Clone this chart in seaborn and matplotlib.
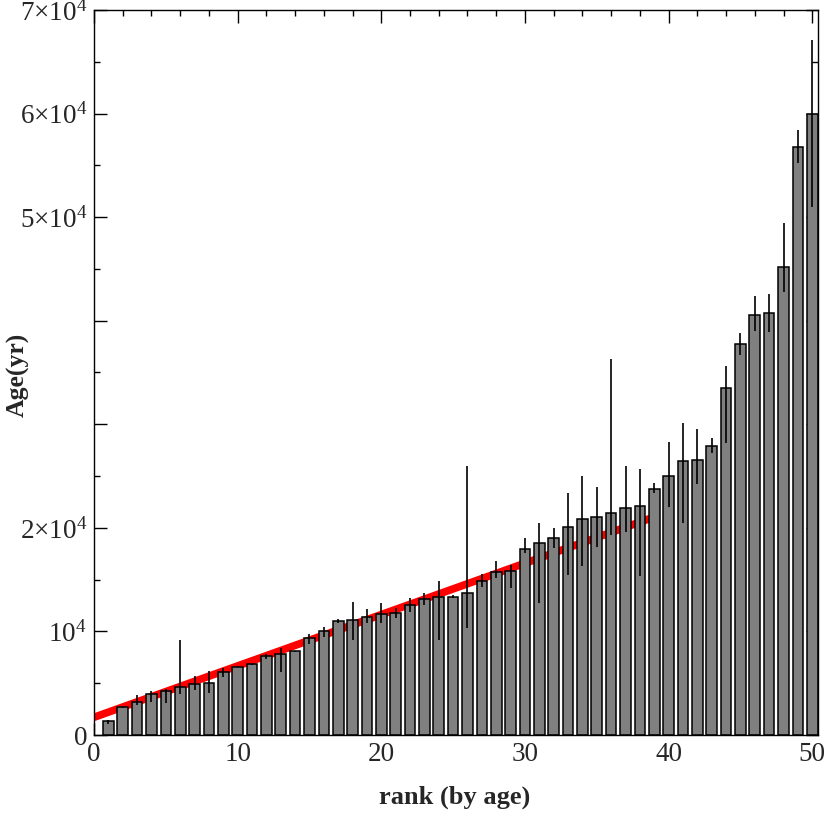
import numpy as np
import pandas as pd
import matplotlib
matplotlib.use("Agg")
import matplotlib.pyplot as plt
import seaborn as sns
from matplotlib.ticker import MultipleLocator, FixedLocator

# ---- data ----
rank = [1, 2, 3, 4, 5, 6, 7, 8, 9, 10, 11, 12, 13, 14, 15, 16, 17, 18, 19, 20,
        21, 22, 23, 24, 25, 26, 27, 28, 29, 30, 31, 32, 33, 34, 35, 36, 37, 38, 39, 40,
        41, 42, 43, 44, 45, 46, 47, 48, 49, 50]
age = [1350, 2670, 3220, 3930, 4280, 4600, 4920, 5020, 6050, 6600,
       6820, 7580, 7790, 8110, 9330, 10040, 11010, 11070, 11360, 11680,
       11780, 12550, 13100, 13290, 13350, 13680, 14840, 15770, 15860, 17960,
       18570, 18990, 20060, 20880, 21070, 21400, 21890, 22110, 23780, 24980,
       26460, 26580, 27900, 33470, 37750, 40580, 40740, 45150, 56740, 60000]
age_hi = [1450, 2750, 3860, 4250, 4410, 9170, 5700, 6180, 6440, 6650,
          6900, 7790, 8370, 8150, 9750, 10460, 11170, 12810, 12200, 12710,
          12230, 13200, 13680, 14900, 13500, 26000, 15510, 16800, 16410, 18990,
          20500, 20020, 23340, 25010, 23900, 36270, 26000, 25680, 24300, 28260,
          30090, 29580, 28640, 35630, 38840, 42420, 42580, 49400, 58410, 67100]
age_lo = [1060, 2600, 2900, 3220, 3120, 4000, 4300, 4080, 5630, 6550,
          6750, 7300, 6110, 8050, 8760, 9490, 10780, 9170, 10850, 10780,
          11270, 11910, 12550, 9170, 13200, 10300, 14320, 15130, 14160, 17540,
          12710, 18090, 15450, 16320, 18180, 19310, 19630, 15380, 23340, 22040,
          20440, 24230, 27200, 28160, 36690, 39040, 38880, 42800, 55260, 51010]
fit_x = [0, 38.7]
fit_y = [1710, 20900]

ytick_vals = [0, 10000, 20000, 30000, 40000, 50000, 60000, 70000]
ytick_labels = ["0", r"$10^4$", r"$2{\times}10^4$", "", "",
                r"$5{\times}10^4$", r"$6{\times}10^4$", r"$7{\times}10^4$"]
xtick_vals = [0, 10, 20, 30, 40, 50]

# ---- style ----
sns.set_style("ticks")
plt.rcParams["font.family"] = ["Liberation Serif", "DejaVu Serif"]
plt.rcParams["mathtext.fontset"] = "custom"
plt.rcParams["mathtext.rm"] = "Liberation Serif"
plt.rcParams["mathtext.it"] = "Liberation Serif:italic"
plt.rcParams["mathtext.bf"] = "Liberation Serif:bold"

fig = plt.figure(figsize=(8.3, 8.3), dpi=100)
ax = fig.add_axes([94 / 830, 1 - 735 / 830, (818 - 94) / 830, (735 - 10) / 830])

df = pd.DataFrame({"rank": rank, "age": age})

# red fit line behind bars
sns.lineplot(x=fit_x, y=fit_y, color="#ff0000", linewidth=5.5, ax=ax, zorder=1,
             solid_capstyle="butt")

sns.barplot(data=df, x="rank", y="age", native_scale=True, width=0.74,
            color="#808080", edgecolor="black", linewidth=1.1,
            errorbar=None, ax=ax, zorder=2, saturation=1)

age_arr = np.array(age)
yerr = np.vstack([age_arr - np.array(age_lo), np.array(age_hi) - age_arr])
ax.errorbar(rank, age, yerr=yerr, fmt="none", ecolor="black", elinewidth=1.2,
            capsize=0, zorder=3)

ax.set_xlim(0, 50.4)
ax.set_ylim(0, 70000)

ax.xaxis.set_major_locator(FixedLocator(xtick_vals))
ax.set_xticklabels([str(v) for v in xtick_vals])
ax.xaxis.set_minor_locator(MultipleLocator(2))
ax.yaxis.set_major_locator(FixedLocator(ytick_vals))
ax.set_yticklabels(ytick_labels)
ax.yaxis.set_minor_locator(MultipleLocator(5000))

ax.tick_params(which="both", direction="in", top=True, right=True,
               labelsize=19.5, width=1.0, color="black")
ax.tick_params(which="major", length=9, pad=5)
ax.tick_params(which="minor", length=4.5)
for s in ax.spines.values():
    s.set_linewidth(1.0)
    s.set_color("black")
    s.set_zorder(5)

ax.set_xlabel("rank (by age)", fontsize=19, fontweight="bold")
ax.set_ylabel("Age(yr)", fontsize=18.5, fontweight="bold")
ax.xaxis.set_label_coords((455 - 94) / 724, (735 - 797) / 725)
ax.yaxis.set_label_coords((18 - 94) / 724, (735 - 375) / 725)
ax.xaxis.label.set_va("center")
ax.yaxis.label.set_va("center")

fig.savefig("out.png", dpi=100)
